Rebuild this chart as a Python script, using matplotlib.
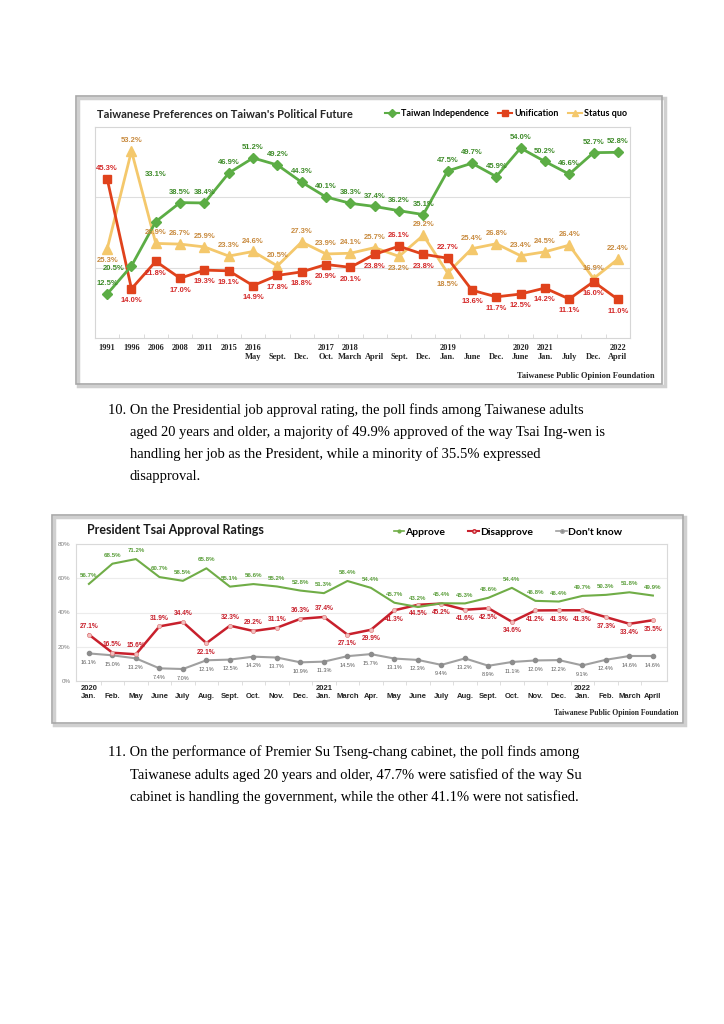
import matplotlib
matplotlib.use("Agg")
import matplotlib.pyplot as plt
from matplotlib.lines import Line2D
from matplotlib.patches import Rectangle

# ---------------- data: chart 1 ----------------
pf_years = ["1991", "1996", "2006", "2008", "2011", "2015", "2016", "", "", "2017", "2018",
            "", "", "", "2019", "", "", "2020", "2021", "", "", "2022"]
pf_months = ["", "", "", "", "", "", "May", "Sept.", "Dec.", "Oct.", "March",
             "April", "Sept.", "Dec.", "Jan.", "June", "Dec.", "June", "Jan.", "July", "Dec.", "April"]
independence = [12.5, 20.5, 33.1, 38.5, 38.4, 46.9, 51.2, 49.2, 44.3, 40.1, 38.3,
                37.4, 36.2, 35.1, 47.5, 49.7, 45.9, 54.0, 50.2, 46.6, 52.7, 52.8]
unification = [45.3, 14.0, 21.8, 17.0, 19.3, 19.1, 14.9, 17.8, 18.8, 20.9, 20.1,
               23.8, 26.1, 23.8, 22.7, 13.6, 11.7, 12.5, 14.2, 11.1, 16.0, 11.0]
status_quo = [25.3, 53.2, 26.9, 26.7, 25.9, 23.3, 24.6, 20.5, 27.3, 23.9, 24.1,
              25.7, 23.2, 29.2, 18.5, 25.4, 26.8, 23.4, 24.5, 26.4, 16.9, 22.4]

# ---------------- data: chart 2 ----------------
ap_years = ["2020", "", "", "", "", "", "", "", "", "", "2021", "", "", "", "", "", "", "", "",
            "", "", "2022", "", "", ""]
ap_months = ["Jan.", "Feb.", "May", "June", "July", "Aug.", "Sept.", "Oct.", "Nov.", "Dec.",
             "Jan.", "March", "Apr.", "May", "June", "July", "Aug.", "Sept.", "Oct.", "Nov.",
             "Dec.", "Jan.", "Feb.", "March", "April"]
approve = [56.7, 68.5, 71.2, 60.7, 58.5, 65.8, 55.1, 56.6, 55.2, 52.8, 51.3, 58.4, 54.4,
           45.7, 43.2, 45.4, 45.3, 48.6, 54.4, 46.8, 46.4, 49.7, 50.3, 51.8, 49.9]
disapprove = [27.1, 16.5, 15.6, 31.9, 34.4, 22.1, 32.3, 29.2, 31.1, 36.3, 37.4, 27.1, 29.9,
              41.3, 44.5, 45.2, 41.6, 42.5, 34.6, 41.2, 41.3, 41.3, 37.3, 33.4, 35.5]
dont_know = [16.1, 15.0, 13.2, 7.4, 7.0, 12.1, 12.5, 14.2, 13.7, 10.9, 11.3, 14.5, 15.7,
             13.1, 12.3, 9.4, 13.2, 8.9, 11.1, 12.0, 12.2, 9.1, 12.4, 14.6, 14.6]

para10 = ["10. On the Presidential job approval rating, the poll finds among Taiwanese adults",
          "aged 20 years and older, a majority of 49.9% approved of the way Tsai Ing-wen is",
          "handling her job as the President, while a minority of 35.5% expressed",
          "disapproval."]
para11 = ["11. On the performance of Premier Su Tseng-chang cabinet, the poll finds among",
          "Taiwanese adults aged 20 years and older, 47.7% were satisfied of the way Su",
          "cabinet is handling the government, while the other 41.1% were not satisfied."]

# ---------------- label placement (style) ----------------
ind_pos = ["a"] * 22
ind_pos[1] = "l"
ind_pos[2] = "A"
uni_pos = ["b"] * 22
for i in (0, 12, 14):
    uni_pos[i] = "a"
sq_pos = ["a"] * 22
for i in (0, 12, 14):
    sq_pos[i] = "b"

dis_pos = ["a"] * 25
for i in [5, 11, 12] + list(range(13, 25)):
    dis_pos[i] = "b"

W, H = 724, 1024
fig = plt.figure(figsize=(W / 100, H / 100), dpi=100)
fig.patch.set_facecolor("white")


def fx(px):
    return px / W


def fy(py):
    return 1 - py / H


# ================= chart 1 =================
fig.patches.append(Rectangle((fx(78), fy(386)), (665 - 78) / W, (386 - 98) / H,
                             transform=fig.transFigure, fill=False, ec="#d0d0d0", lw=2.5))
fig.patches.append(Rectangle((fx(76), fy(384)), (662 - 76) / W, (384 - 96) / H,
                             transform=fig.transFigure, fill=False, ec="#a8a8a8", lw=1.2))

ax1 = fig.add_axes([fx(95), fy(338), (630 - 95) / W, (338 - 127) / H])
x1 = list(range(len(independence)))
G1, R1, Y1 = "#5cad45", "#e0421c", "#f4c86c"
GL1, RL1, YL1 = "#3f8c2a", "#d42a2a", "#c88a3e"
ax1.plot(x1, status_quo, color=Y1, lw=2.0, marker="^", ms=6.5, mfc=Y1, mec=Y1, zorder=3)
ax1.plot(x1, unification, color=R1, lw=2.0, marker="s", ms=5.5, mfc=R1, mec=R1, zorder=4)
ax1.plot(x1, independence, color=G1, lw=2.0, marker="D", ms=5.5, mfc=G1, mec=G1, zorder=5)
ax1.set_xlim(-0.5, len(x1) - 0.5)
ax1.set_ylim(0, 60)
ax1.set_yticks([20, 40])
ax1.set_yticklabels([])
ax1.tick_params(axis="y", length=0)
ax1.grid(axis="y", color="#dedede", lw=0.8)
ax1.set_axisbelow(True)
for s in ax1.spines.values():
    s.set_color("#d6d6d6")
    s.set_linewidth(0.8)
ax1.set_xticks(x1)
ax1.set_xticklabels([(y + "\n" + m) if m else y for y, m in zip(pf_years, pf_months)],
                    fontsize=6, fontweight="bold", family="Liberation Serif", color="#262626",
                    va="top", linespacing=1.25)
ax1.tick_params(axis="x", length=0, pad=4)
ax1.set_xticks([i + 0.5 for i in x1[:-1]], minor=True)
ax1.tick_params(axis="x", which="minor", length=3, color="#d6d6d6", direction="in")

offs1 = {"a": (0, 7.5), "b": (0, -8.5), "l": (-13, -2), "A": (0, 34)}


def lab(ax, xs, ys, pos, color, size, offs, weight="bold"):
    for xi, yi, p in zip(xs, ys, pos):
        ax.annotate(f"{yi:.1f}%", (xi, yi), xytext=offs[p], textcoords="offset points",
                    ha="center", va="center", fontsize=size, color=color, fontweight=weight,
                    family="Liberation Sans", zorder=6)


lab(ax1, x1, independence, ind_pos, GL1, 5.5, offs1)
lab(ax1, x1, unification, uni_pos, RL1, 5.5, offs1)
lab(ax1, x1, status_quo, sq_pos, YL1, 5.5, offs1)

fig.text(fx(97), fy(115), "Taiwanese Preferences on Taiwan's Political Future", fontsize=8,
         fontweight="bold", family="Lato", va="center", color="#262626")
h1 = [Line2D([], [], color=G1, lw=1.5, marker="D", ms=4),
      Line2D([], [], color=R1, lw=1.5, marker="s", ms=4),
      Line2D([], [], color=Y1, lw=1.5, marker="^", ms=4.5)]
ax1.legend(h1, ["Taiwan Independence", "Unification", "Status quo"], loc="center",
           bbox_to_anchor=(fx(506), fy(114)), bbox_transform=fig.transFigure, ncol=3,
           frameon=False, handlelength=1.6, columnspacing=1.0, handletextpad=0.2,
           prop=dict(family="Lato", weight="bold", size=6.5))
fig.text(fx(655), fy(376), "Taiwanese Public Opinion Foundation", ha="right", va="center",
         family="Liberation Serif", fontsize=6, fontweight="bold", color="#262626")

# ================= paragraphs =================
for i, line in enumerate(para10):
    fig.text(fx(108 if i == 0 else 130), fy(414 + 22 * i), line, family="Liberation Serif",
             fontsize=10.45, va="baseline", color="black")
for i, line in enumerate(para11):
    fig.text(fx(108 if i == 0 else 130), fy(756 + 22.5 * i), line, family="Liberation Serif",
             fontsize=10.45, va="baseline", color="black")

# ================= chart 2 =================
fig.patches.append(Rectangle((fx(54), fy(725)), (685 - 54) / W, (725 - 517) / H,
                             transform=fig.transFigure, fill=False, ec="#d0d0d0", lw=2.5))
fig.patches.append(Rectangle((fx(52), fy(723)), (683 - 52) / W, (723 - 515) / H,
                             transform=fig.transFigure, fill=False, ec="#a8a8a8", lw=1.2))

ax2 = fig.add_axes([fx(76), fy(681), (667 - 76) / W, (681 - 544) / H])
x2 = list(range(len(approve)))
G2, R2, K2 = "#70ad47", "#c8202c", "#a0a0a0"
ax2.plot(x2, dont_know, color=K2, lw=1.5, marker="o", ms=3, mfc="#8c8c8c", mec="#8c8c8c", zorder=3)
ax2.plot(x2, disapprove, color=R2, lw=1.8, marker="o", ms=3, mfc="#f2c0c0", mec="#e08080",
         mew=0.5, zorder=4)
ax2.plot(x2, approve, color=G2, lw=1.5, zorder=5)
ax2.set_xlim(-0.55, len(x2) - 0.4)
ax2.set_ylim(0, 80)
ax2.set_yticks([0, 20, 40, 60, 80])
ax2.set_yticklabels(["0%", "20%", "40%", "60%", "80%"], fontsize=4.5, color="#7f7f7f",
                    family="Liberation Sans")
ax2.tick_params(axis="y", length=0, pad=4)
ax2.grid(axis="y", color="#ececec", lw=0.8)
ax2.set_axisbelow(True)
for s in ax2.spines.values():
    s.set_color("#d9d9d9")
    s.set_linewidth(0.8)
ax2.set_xticks(x2)
ax2.set_xticklabels([(y + "\n" + m) for y, m in zip(ap_years, ap_months)],
                    fontsize=5.5, fontweight="bold", family="Liberation Sans", color="#262626",
                    va="top", linespacing=1.15)
ax2.tick_params(axis="x", length=0, pad=3)
ax2.set_xticks([i + 0.5 for i in x2[:-1]], minor=True)
ax2.tick_params(axis="x", which="minor", length=3, color="#d9d9d9", direction="out")

offs2 = {"a": (0, 6), "b": (0, -6.5)}
lab(ax2, x2, approve, ["a"] * 25, "#5a9e3a", 4.4, offs2)
lab(ax2, x2, disapprove, dis_pos, "#c8202c", 4.8, offs2)
lab(ax2, x2, dont_know, ["b"] * 25, "#595959", 4.0, offs2, weight="normal")

fig.text(fx(87), fy(530), "President Tsai Approval Ratings", fontsize=9, fontweight="bold",
         family="Lato", va="center", color="#1a1a1a")
h2 = [Line2D([], [], color=G2, lw=1.2, marker="o", ms=2),
      Line2D([], [], color=R2, lw=1.5, marker="o", ms=2.5, mfc="#f2c0c0"),
      Line2D([], [], color=K2, lw=1.2, marker="o", ms=2.5, mfc="#8c8c8c")]
ax2.legend(h2, ["Approve", "Disapprove", "Don't know"], loc="center",
           bbox_to_anchor=(fx(508), fy(532)), bbox_transform=fig.transFigure, ncol=3,
           frameon=False, handlelength=1.0, columnspacing=2.2, handletextpad=0.15,
           prop=dict(family="Lato", weight="bold", size=7.5))
fig.text(fx(679), fy(713), "Taiwanese Public Opinion Foundation", ha="right", va="center",
         family="Liberation Serif", fontsize=5.5, fontweight="bold", color="#262626")

fig.savefig("out.png", dpi=100, facecolor="white")
